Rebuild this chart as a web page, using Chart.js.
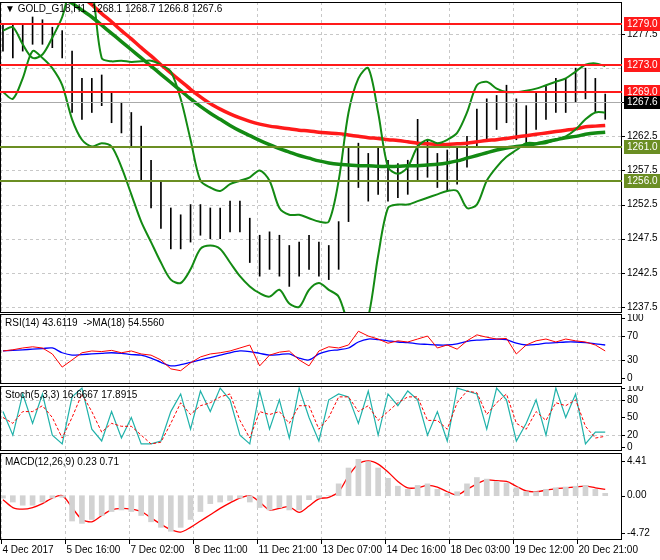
<!DOCTYPE html>
<html><head><meta charset="utf-8">
<script src="https://cdn.jsdelivr.net/npm/chart.js@4/dist/chart.umd.min.js"></script>
<style>body{margin:0;background:#fff;width:660px;height:560px;position:relative;overflow:hidden}canvas{position:absolute;left:0}</style>
</head><body>
<canvas id="cP" style="top:0"></canvas><canvas id="cR" style="top:314px"></canvas><canvas id="cS" style="top:386px"></canvas><canvas id="cM" style="top:453px"></canvas>
<script>
const timeLabels=['4 Dec 2017','5 Dec 16:00','7 Dec 02:00','8 Dec 11:00','11 Dec 21:00','13 Dec 07:00','14 Dec 16:00','18 Dec 03:00','19 Dec 12:00','20 Dec 21:00'];
const priceHigh=[1279,1278.8,1279,1280,1279.6,1278.5,1278,1275,1271,1271,1271.5,1269,1267.5,1266,1264,1259,1256,1252,1251,1252.5,1252.5,1252,1252,1253,1253,1250.5,1248,1248.5,1248,1246.5,1247,1248,1247,1246.5,1250,1261,1261.5,1260,1261,1259,1258.5,1259,1265,1262,1260,1260.5,1261,1262.5,1266.5,1268,1268.5,1270,1268,1267,1269,1270,1271,1271,1272.5,1272.5,1271,1268.7];
const priceLow=[1275,1274,1275,1276,1276,1275.5,1274,1266,1265,1266,1267,1264.5,1263,1261,1256,1252,1249,1246,1246,1247,1248,1247.5,1247.5,1248.5,1248.5,1244,1242,1243,1242,1240.5,1242,1243,1242,1241.5,1243,1250,1255,1253,1254,1253,1253.5,1254,1256,1256.5,1255,1254.5,1255.5,1258,1261,1262,1263.5,1264.5,1262,1261.5,1263.5,1265,1266,1266,1267.5,1268,1266,1265];
const maSlowRed=[1291,1290,1289,1288,1287,1286,1285,1284,1283,1281.8,1280.5,1279.3,1278,1276.8,1275.5,1274.3,1273,1271.8,1270.6,1269.4,1268.3,1267.3,1266.5,1265.8,1265.2,1264.7,1264.3,1264,1263.8,1263.6,1263.4,1263.3,1263.1,1263,1262.9,1262.7,1262.5,1262.3,1262.2,1262,1261.9,1261.7,1261.5,1261.4,1261.3,1261.3,1261.4,1261.5,1261.7,1261.9,1262,1262.2,1262.4,1262.6,1262.8,1263,1263.2,1263.4,1263.6,1263.9,1264,1264.1];
const maGreen=[1287,1286.3,1285.6,1284.9,1284.2,1283.5,1282.8,1282,1281,1280,1278.8,1277.6,1276.4,1275.2,1274,1272.8,1271.6,1270.4,1269.2,1268,1266.9,1265.9,1265,1264.1,1263.3,1262.6,1261.9,1261.3,1260.7,1260.2,1259.7,1259.3,1258.9,1258.6,1258.4,1258.3,1258.2,1258.2,1258.1,1258.1,1258.1,1258.2,1258.2,1258.3,1258.4,1258.6,1258.9,1259.3,1259.7,1260.1,1260.5,1260.8,1261,1261.2,1261.4,1261.7,1262,1262.3,1262.5,1262.8,1263,1263.1];
const bbUpper=[1278,1278.5,1276,1274,1274.5,1277,1280,1285,1286,1284,1274,1273.5,1273.6,1273.4,1273.5,1273.6,1273,1272,1268,1262,1256,1255,1254.5,1255.5,1256,1256.5,1257.5,1256,1252,1251,1251,1250.5,1250,1250,1256,1266,1271,1272.5,1266,1258,1257,1258,1261,1262,1261.5,1262,1263,1266,1270,1270.5,1269.5,1269,1269,1269.2,1269.5,1270,1270.5,1271,1272,1273,1273.2,1272.8];
const bbLower=[1269,1268,1271,1275,1274,1272.5,1270,1265,1262,1261,1261.5,1261,1258,1254,1250,1247,1244,1241.5,1241,1243,1246,1246.5,1246,1244,1242,1240.5,1239.5,1239,1240,1238,1237.5,1240,1241,1240,1239,1235,1233,1236,1245,1252,1252.5,1252.5,1253,1253.5,1254,1254.5,1254.5,1252,1252.5,1256,1258,1259.5,1260.5,1261.5,1261.5,1261.5,1262,1262.5,1263.5,1265,1266,1266];
const priceTicks=[1237.5,1242.5,1247.5,1252.5,1257.5,1262.5,1267.5,1272.5,1277.5];
const levelsRed=[1279.0,1273.0,1269.0];
const levelsOlive=[1261.0,1256.0];
const lastPrice=1267.6;
const rsi=[45,47,50,52,50,40,18,30,42,45,44,46,42,45,40,38,30,15,12,25,35,40,42,45,50,55,20,38,43,45,30,20,45,52,50,55,78,70,65,58,62,60,65,70,50,55,48,62,72,68,65,66,40,55,62,65,60,65,62,60,55,45];
const rsiMA=[45,46,47,48,49,50,42,38,39,40,41,42,41,39,38,33,26,20,22,26,30,34,38,42,45,44,41,38,39,40,33,30,40,45,47,50,60,65,64,62,60,59,57,56,55,55,57,61,63,64,65,64,58,55,56,58,59,60,60,59,57,55];
const stochMain=[60,20,90,40,90,20,5,85,100,30,10,60,15,50,5,5,10,60,90,30,95,60,100,80,20,5,95,30,80,15,100,50,10,80,90,85,40,95,20,90,70,95,80,20,60,10,100,95,90,30,100,80,10,40,80,20,100,50,90,5,25,25];
const stochSignal=[50,40,60,60,70,50,15,50,90,60,25,40,35,35,20,5,8,40,75,55,70,75,85,90,45,15,60,55,60,40,70,70,30,50,85,85,60,70,45,60,75,85,85,45,45,30,75,95,92,55,75,90,40,30,60,45,75,70,80,35,15,18];
const macdHist=[-0.3,-0.8,-1.2,-1.2,-0.8,-0.3,-0.2,-3.2,-3.5,-3,-2.5,-2,-1.8,-2,-2.5,-3.3,-4,-4.5,-4,-3,-2,-1,-0.8,-0.6,-0.3,-0.8,-1.5,-1.8,-1.5,-1.8,-1.8,-0.5,-0.3,0,1.5,3.5,4.6,4.3,3.5,2.2,1.2,0.8,1.3,1.5,0.8,0.3,0.5,1.5,2.3,2.1,1.8,1.6,1,0.5,0.5,0.8,1,1.1,1.2,1.3,0.8,0.3];
const macdSignal=[-0.5,-1.5,-1.7,-1.5,-1,-0.3,0,-1.5,-3,-3.3,-2.5,-1.8,-1.6,-1.7,-2,-2.8,-3.6,-4.3,-4.6,-4,-3.2,-2.4,-1.6,-0.9,-0.3,0,-0.8,-1.8,-1.6,-1.4,-2.1,-1.3,-0.4,-0.2,0.5,2.5,4,4.4,4,3,1.8,1,1,1.3,1.1,0.5,0.1,0.8,1.5,2,1.9,1.8,1.2,0.6,0.5,0.7,0.9,1,1.1,1.2,1,0.8];

const FONT='"Liberation Sans", Arial, sans-serif';
Chart.defaults.font.family=FONT; Chart.defaults.font.size=10; Chart.defaults.color='#000';
Chart.defaults.animation=false; Chart.defaults.devicePixelRatio=1;
const X0=-0.3,X1=62.7;
const xTickVals=timeLabels.map((_,i)=>-0.2+6.48*i);
const pts=a=>a.map((v,i)=>({x:i,y:v}));
function line(d,c,w,extra){return Object.assign({type:'line',data:pts(d),borderColor:c,borderWidth:w,pointRadius:0,tension:0.3,fill:false},extra||{});}
function setup(id,h){const c=document.getElementById(id);c.width=660;c.height=h;c.style.width='660px';c.style.height=h+'px';return c;}
const PANEL={};
const frame={id:'frame',beforeDatasetsDraw(ch){const a=ch.chartArea,g=ch.ctx,o=PANEL[ch.canvas.id]||{};g.save();g.strokeStyle='#c8c8c8';g.setLineDash([3,3]);g.lineWidth=1;
  xTickVals.forEach(v=>{const x=Math.round(ch.scales.x.getPixelForValue(v))+0.5;g.beginPath();g.moveTo(x,a.top);g.lineTo(x,a.bottom);g.stroke();});
  (o.grid||[]).forEach(v=>{const y=Math.round(ch.scales.y.getPixelForValue(v))+0.5;g.beginPath();g.moveTo(a.left,y);g.lineTo(a.right,y);g.stroke();});g.restore();},
 afterDraw(ch){const a=ch.chartArea,g=ch.ctx,o=PANEL[ch.canvas.id]||{};g.save();g.strokeStyle='#000';g.lineWidth=1;g.strokeRect(a.left+0.5,a.top+0.5,a.right-a.left-1,a.bottom-a.top-1);
  g.fillStyle='#000';g.font='10px '+FONT;g.textBaseline='middle';g.textAlign='left';
  (o.labels||[]).forEach(t=>{const y=ch.scales.y.getPixelForValue(t);g.beginPath();g.moveTo(a.right,Math.round(y)+0.5);g.lineTo(a.right+3,Math.round(y)+0.5);g.stroke();g.fillText(o.fmt?o.fmt(t):String(t),a.right+5,y);});
  if(o.title){g.textBaseline='top';g.fillText(o.title,a.left+5,a.top+4);}
  if(o.after)o.after(ch,g);g.restore();}};
Chart.register(frame);
function yScale(min,max){return {position:'right',min,max,afterFit:s=>{s.width=38;},ticks:{display:false},grid:{display:false},border:{display:false}};}
function xScale(){return {type:'linear',min:X0,max:X1,display:false,offset:false};}
const opts=(extra)=>Object.assign({responsive:false,maintainAspectRatio:false,layout:{padding:0},plugins:{legend:{display:false},tooltip:{enabled:false}}},extra);

PANEL.cP={grid:priceTicks,labels:priceTicks.filter(v=>v!==1272.5),fmt:v=>v.toFixed(1),
  after(ch,g){const a=ch.chartArea,y=ch.scales.y;
   g.textBaseline='top';g.fillStyle='#000';g.fillText('\u25BC GOLD_G18,H1  1268.1 1268.7 1266.8 1267.6',a.left+5,a.top+2);
   const lev=(v,c)=>{const p=Math.round(y.getPixelForValue(v));g.fillStyle=c;g.fillRect(a.left,p-1,a.right-a.left,2);
     g.fillRect(a.right+2,p-7,36,14);g.fillStyle='#fff';g.textBaseline='middle';g.fillText(v.toFixed(1),a.right+5,p);};
   levelsRed.forEach(v=>lev(v,'#ff1a1a'));levelsOlive.forEach(v=>lev(v,'#6b8e23'));
   const p=Math.round(y.getPixelForValue(lastPrice));g.strokeStyle='#aaa';g.beginPath();g.moveTo(a.left,p+0.5);g.lineTo(a.right,p+0.5);g.stroke();
   g.fillStyle='#000';g.fillRect(a.right+2,p-6,36,13);g.fillStyle='#fff';g.fillText(lastPrice.toFixed(1),a.right+5,p);}};
setup('cP',313);
new Chart('cP',{data:{datasets:[
 line(bbUpper,'#138a13',2),line(bbLower,'#138a13',2),
 line(maGreen,'#138a13',3.5),line(maSlowRed,'#ff1a1a',3.5),
 {type:'bar',data:priceHigh.map((h,i)=>({x:i,y:[priceLow[i],h]})),backgroundColor:'#000',barThickness:1,grouped:false}
]},options:opts({layout:{padding:{top:2}},scales:{x:xScale(),y:yScale(1236.6,1282.2)}})});

PANEL.cR={grid:[30,70],labels:[100,70,30,0],title:'RSI(14) 43.6119  ->MA(18) 54.5560'};
setup('cR',70);
new Chart('cR',{data:{datasets:[line(rsi,'#ff0000',1,{tension:0}),line(rsiMA,'#0000ff',1.3)]},
 options:opts({scales:{x:xScale(),y:yScale(-10.3,106.9)}})});

PANEL.cS={grid:[20,80],labels:[100,80,50,20,0],title:'Stoch(5,3,3) 16.6667 17.8915'};
setup('cS',65);
new Chart('cS',{data:{datasets:[line(stochSignal,'#ff0000',1,{borderDash:[3,2],tension:0}),line(stochMain,'#20b2aa',1.2,{tension:0})]},
 options:opts({scales:{x:xScale(),y:yScale(-7,103.5)}})});

PANEL.cM={grid:[],labels:[4.41,0,-4.72],fmt:v=>v.toFixed(2),title:'MACD(12,26,9) 0.23 0.71',
  after(ch,g){const a=ch.chartArea;g.textBaseline='top';g.textAlign='left';g.fillStyle='#000';g.strokeStyle='#000';
   xTickVals.forEach((v,i)=>{const x=Math.round(ch.scales.x.getPixelForValue(v))+0.5;g.beginPath();g.moveTo(x,a.bottom);g.lineTo(x,a.bottom+4);g.stroke();g.fillText(timeLabels[i],x+1,a.bottom+5);});}};
setup('cM',107);
new Chart('cM',{data:{datasets:[
 {type:'bar',data:pts(macdHist),backgroundColor:'#d2d2d2',barThickness:5,grouped:false},
 line(macdSignal,'#ff0000',1.3)]},
 options:opts({layout:{padding:{bottom:20}},scales:{x:xScale(),y:yScale(-5.6,5.4)}})});
</script></body></html>
